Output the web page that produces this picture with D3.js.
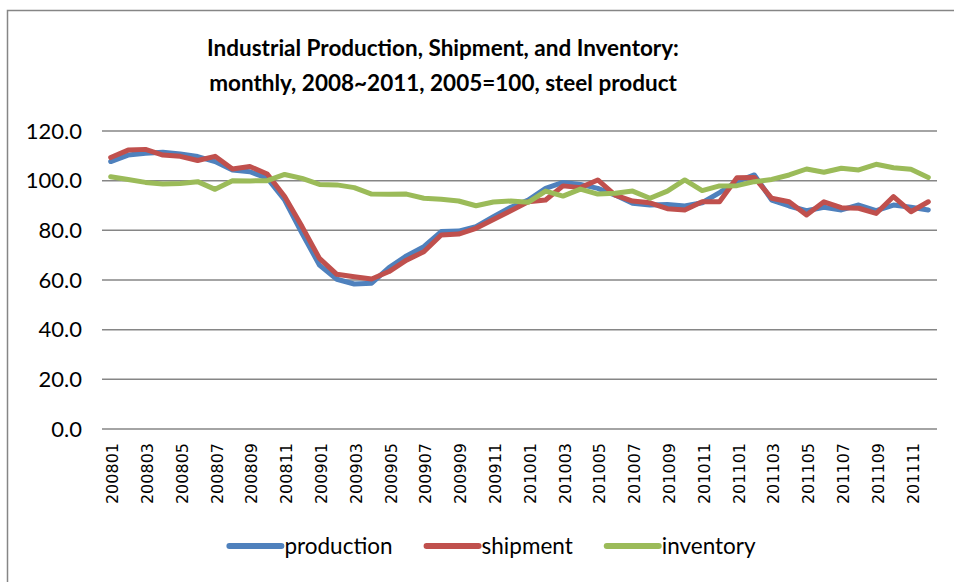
<!DOCTYPE html>
<html>
<head>
<meta charset="utf-8">
<script src="https://cdn.jsdelivr.net/npm/d3@7"></script>
<style>
  body { margin: 0; background: #fff; }
  text { font-family: Lato, "Liberation Sans", sans-serif; fill: #000; }
</style>
</head>
<body>
<div id="chart"></div>
<script>
// category labels, one per month
const months = ["200801","200802","200803","200804","200805","200806","200807","200808","200809","200810","200811","200812",
  "200901","200902","200903","200904","200905","200906","200907","200908","200909","200910","200911","200912",
  "201001","201002","201003","201004","201005","201006","201007","201008","201009","201010","201011","201012",
  "201101","201102","201103","201104","201105","201106","201107","201108","201109","201110","201111","201112"];

const production = [107.7, 110.3, 111, 111.4, 110.7, 109.7, 107.7, 104.3, 103.6, 101, 92.2, 78.8,
  66, 60.3, 58.4, 58.7, 65, 69.7, 73.4, 79.5, 79.7, 81.5, 85.5, 89.3,
  92.2, 96.9, 99.3, 98.5, 96.9, 94.2, 90.9, 90.2, 90.4, 89.8, 91.1, 95.2,
  99.6, 102.3, 92.2, 89.8, 87.9, 89.3, 88.2, 90.2, 87.9, 90.2, 89.3, 88.2];

const shipment = [109.3, 112.3, 112.6, 110.3, 109.8, 108.1, 109.8, 104.7, 105.7, 102.7, 93.6, 81.5,
  68.7, 62.3, 61.3, 60.4, 63.4, 68, 71.4, 78.1, 78.5, 80.8, 84.4, 87.9,
  91.5, 92.2, 97.9, 97.2, 100.3, 94.2, 91.8, 91.1, 88.7, 88.2, 91.5, 91.5,
  101.2, 101.3, 92.9, 91.5, 86.2, 91.5, 89.1, 88.9, 86.8, 93.6, 87.5, 91.5];

const inventory = [101.6, 100.5, 99.3, 98.7, 98.9, 99.6, 96.5, 100, 99.9, 100, 102.5, 100.9,
  98.5, 98.3, 97.2, 94.6, 94.5, 94.6, 92.9, 92.5, 91.8, 89.9, 91.4, 91.8,
  91.3, 95.8, 93.8, 96.6, 94.6, 94.9, 95.8, 92.9, 95.8, 100.3, 96, 97.9,
  98, 99.6, 100.5, 102.3, 104.7, 103.4, 105, 104.3, 106.6, 105.2, 104.6, 101.3];

const yTicks = [0, 20, 40, 60, 80, 100, 120];
const seriesNames = ["production", "shipment", "inventory"];
const colorMap = {"production": "#4F81BD", "shipment": "#C0504D", "inventory": "#9BBB59"};

var width = 954, height = 582;
var plot = {left: 102, right: 937, top: 131, bottom: 429};

var svg = d3.select("#chart")
  .append("svg")
    .attr("width", width)
    .attr("height", height);

// outer chart frame (right and bottom sides fall outside the picture)
svg.append("path")
  .attr("d", "M 7.5 " + height + " L 7.5 10.5 L " + width + " 10.5")
  .attr("fill", "none")
  .attr("stroke", "#868686")
  .attr("stroke-width", 1.5);

// title
var title = svg.append("text")
  .attr("text-anchor", "middle")
  .attr("font-size", "22.5px")
  .attr("font-weight", 700);
title.append("tspan").attr("x", 443).attr("y", 56)
  .text("Industrial Production, Shipment, and Inventory:");
title.append("tspan").attr("x", 443).attr("y", 91)
  .text("monthly, 2008~2011, 2005=100, steel product");

var x = d3.scaleBand()
  .domain(months)
  .range([plot.left, plot.right]);

var y = d3.scaleLinear()
  .domain([0, 120])
  .range([plot.bottom, plot.top]);

// gridlines
svg.append("g")
  .selectAll("line")
  .data(yTicks)
  .join("line")
    .attr("x1", plot.left)
    .attr("x2", plot.right)
    .attr("y1", d => y(d))
    .attr("y2", d => y(d))
    .attr("stroke", "#868686")
    .attr("stroke-width", 1.5);

// y axis labels
svg.append("g")
  .selectAll("text")
  .data(yTicks)
  .join("text")
    .attr("x", 82)
    .attr("y", d => y(d))
    .attr("dy", "0.35em")
    .attr("text-anchor", "end")
    .attr("font-size", "22px")
    .text(d => d.toFixed(1));

// x axis labels, every other month, rotated
svg.append("g")
  .selectAll("text")
  .data(months.filter((d, i) => i % 2 === 0))
  .join("text")
    .attr("transform", d => "translate(" + (x(d) + x.bandwidth() / 2 + 2) + ",443) rotate(-90)")
    .attr("dy", "0.35em")
    .attr("text-anchor", "end")
    .style("font-family", "'DejaVu Sans', sans-serif")
    .attr("font-size", "16px")
    .text(d => d);

var line = d3.line()
  .x((d, i) => x(months[i]) + x.bandwidth() / 2)
  .y(d => y(d));

const seriesData = {"production": production, "shipment": shipment, "inventory": inventory};

svg.append("g")
  .selectAll("path")
  .data(seriesNames)
  .join("path")
    .attr("d", d => line(seriesData[d]))
    .attr("fill", "none")
    .attr("stroke", d => colorMap[d])
    .attr("stroke-width", 5)
    .attr("stroke-linejoin", "round")
    .attr("stroke-linecap", "round");

// legend, centred under the chart
var legend = svg.append("g");
var lx = 0;
seriesNames.forEach(function(name, i) {
  var item = legend.append("g").attr("transform", "translate(" + lx + ",0)");
  item.append("line")
    .attr("x1", 3).attr("x2", 55)
    .attr("y1", 0).attr("y2", 0)
    .attr("stroke", colorMap[name])
    .attr("stroke-width", 6)
    .attr("stroke-linecap", "round");
  var t = item.append("text")
    .attr("x", 58)
    .attr("dy", "0.35em")
    .attr("font-size", "22.5px")
    .text(name);
  lx += 58 + t.node().getComputedTextLength() + 31;
});
lx -= 31;
legend.attr("transform", "translate(" + (491 - lx / 2) + ",546)");
</script>
</body>
</html>
